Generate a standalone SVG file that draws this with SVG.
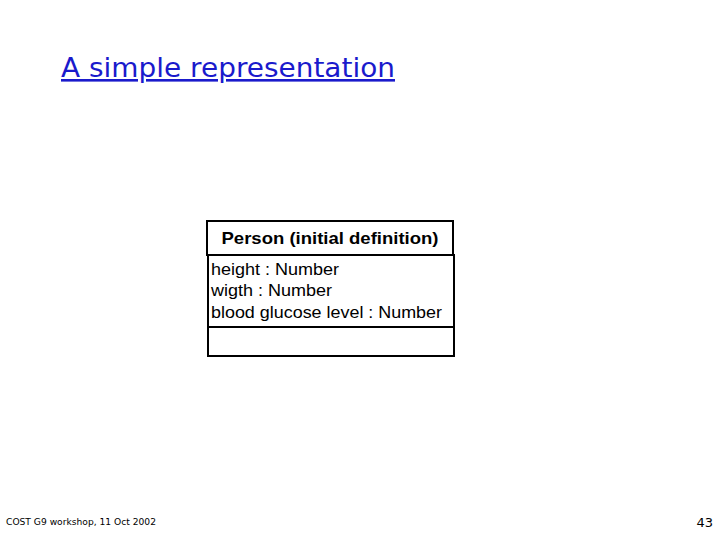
<svg xmlns="http://www.w3.org/2000/svg" width="720" height="540" viewBox="0 0 720 540">
<style>
.title{font-family:"DejaVu Sans",Verdana,sans-serif;font-size:26px;fill:#1a1acc;text-decoration:underline}
.hdr{font-family:"Liberation Sans",Arial,sans-serif;font-size:17px;font-weight:bold;fill:#000}
.attr{font-family:"Liberation Sans",Arial,sans-serif;font-size:17px;fill:#000}
.box{fill:#fff;stroke:#000;stroke-width:2}
.foot{font-family:"DejaVu Sans",Verdana,sans-serif;font-size:9px;fill:#000}
.num{font-family:"DejaVu Sans",Verdana,sans-serif;font-size:13px;fill:#000}
</style>
<rect width="720" height="540" fill="#fff"/>
<text class="title" x="61" y="77" textLength="334" lengthAdjust="spacingAndGlyphs">A simple representation</text>
<g id="person">
<rect class="box" x="207" y="221" width="246" height="34"/>
<text class="hdr" x="330" y="244" text-anchor="middle" textLength="217" lengthAdjust="spacingAndGlyphs">Person (initial definition)</text>
<rect class="box" x="208" y="255" width="246" height="72"/>
<text class="attr" x="211" y="275" textLength="128" lengthAdjust="spacingAndGlyphs">height : Number</text>
<text class="attr" x="211" y="296" textLength="121" lengthAdjust="spacingAndGlyphs">wigth : Number</text>
<text class="attr" x="211" y="318" textLength="231" lengthAdjust="spacingAndGlyphs">blood glucose level : Number</text>
<rect class="box" x="208" y="327" width="246" height="29"/>
</g>
<g id="connectors"></g>
<text class="foot" x="6" y="525" textLength="150" lengthAdjust="spacingAndGlyphs">COST G9 workshop, 11  Oct 2002</text>
<text class="num" x="713" y="527" text-anchor="end">43</text>
</svg>
